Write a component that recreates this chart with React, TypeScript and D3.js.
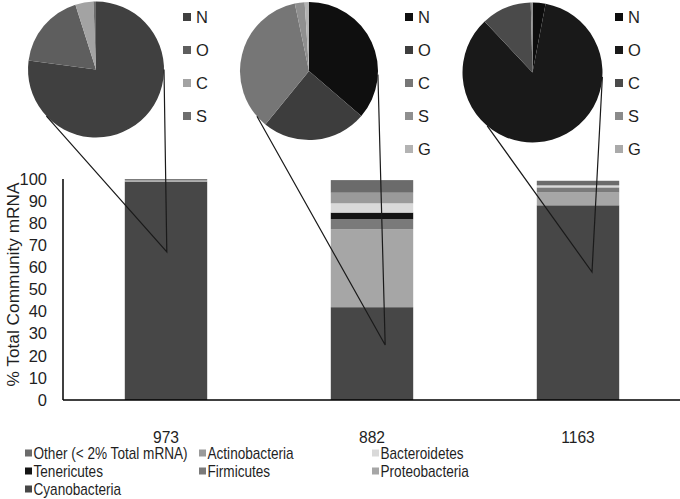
import React from "react";
import * as d3 from "d3";

const categories = ["973", "882", "1163"];
const phyla = ["Cyanobacteria", "Proteobacteria", "Firmicutes", "Tenericutes", "Bacteroidetes", "Actinobacteria", "Other (< 2% Total mRNA)"];
const cyanobacteria = [98.8, 42.0, 88.1];
const proteobacteria = [0.8, 35.3, 5.8];
const firmicutes = [0, 4.5, 2.3];
const tenericutes = [0, 3.0, 0];
const bacteroidetes = [0, 4.2, 0.8];
const actinobacteria = [0, 4.8, 0.2];
const other = [0.4, 5.7, 2.0];
const yTicks = [0, 10, 20, 30, 40, 50, 60, 70, 80, 90, 100];
const legendOrder = ["Other (< 2% Total mRNA)", "Actinobacteria", "Bacteroidetes", "Tenericutes", "Firmicutes", "Proteobacteria", "Cyanobacteria"];

const pie973Labels = ["N", "O", "C", "S"];
const pie973Values = [77.1, 18.0, 4.3, 0.6];
const pie882Labels = ["N", "O", "C", "S", "G"];
const pie882Values = [36.3, 24.6, 35.8, 2.3, 1.0];
const pie1163Labels = ["N", "O", "C", "S", "G"];
const pie1163Values = [3.0, 85.0, 11.6, 0.3, 0.1];

// leader line vertex inside each bar: fraction across band, % value
const vertexFrac = [0.51, 0.66, 0.67];
const vertexValue = [67, 24.9, 57.9];
// angles (deg, clockwise from top) where leader lines leave each pie
const leaderLeftAngle = [226.8, 229, 220.3];
const leaderRightAngle = [90, 93, 93.6];

const phylumColors: Record<string, string> = {
  "Cyanobacteria": "#474747",
  "Proteobacteria": "#a6a6a6",
  "Firmicutes": "#7a7a7a",
  "Tenericutes": "#141414",
  "Bacteroidetes": "#d9d9d9",
  "Actinobacteria": "#9a9a9a",
  "Other (< 2% Total mRNA)": "#6b6b6b",
};
const pieColors = [
  ["#404040", "#5e5e5e", "#a3a3a3", "#6e6e6e"],
  ["#0f0f0f", "#3d3d3d", "#767676", "#8f8f8f", "#b3b3b3"],
  ["#0d0d0d", "#191919", "#4a4a4a", "#8a8a8a", "#aaaaaa"],
];
const pieLayout = [
  { cx: 96, cy: 69.5, r: 68, lx: 183 },
  { cx: 309, cy: 71, r: 69, lx: 405 },
  { cx: 532.5, cy: 72.5, r: 70, lx: 615 },
];

const W = 680, H = 499;
const FONT = "'Liberation Sans', Arial, sans-serif";
const TXT = "#1f1f1f";

export default function App() {
  const x = d3.scaleBand<string>().domain(categories).range([63, 681]).paddingInner(0.6).paddingOuter(0.3);
  const y = d3.scaleLinear().domain([0, 100]).range([400, 179]);

  const seriesMap: Record<string, number[]> = {
    "Cyanobacteria": cyanobacteria,
    "Proteobacteria": proteobacteria,
    "Firmicutes": firmicutes,
    "Tenericutes": tenericutes,
    "Bacteroidetes": bacteroidetes,
    "Actinobacteria": actinobacteria,
    "Other (< 2% Total mRNA)": other,
  };
  const table = categories.map((c, i) => {
    const row: any = { cat: c };
    phyla.forEach((p) => (row[p] = seriesMap[p][i]));
    return row;
  });
  const stacked = d3.stack<any>().keys(phyla)(table);

  const pies = [
    { labels: pie973Labels, values: pie973Values },
    { labels: pie882Labels, values: pie882Values },
    { labels: pie1163Labels, values: pie1163Values },
  ];
  const pieGen = d3.pie<number>().sort(null).value((d) => d);

  const legendCols = [25, 199, 372];
  const legendRows = [453, 471, 489];

  return (
    <svg width={W} height={H} style={{ position: "absolute", left: 0, top: 0, background: "#fff" }} fontFamily={FONT}>
      {/* bars */}
      {stacked.map((s) => (
        <g key={s.key} fill={phylumColors[s.key]}>
          {s.map((d, i) => (
            <rect key={i} x={x(categories[i])} width={x.bandwidth()} y={y(d[1])} height={Math.max(0, y(d[0]) - y(d[1]))} />
          ))}
        </g>
      ))}
      {/* axes */}
      <line x1={63} x2={63} y1={y(100)} y2={y(0)} stroke="#000" strokeWidth={1.5} />
      <line x1={63} x2={681} y1={y(0)} y2={y(0)} stroke="#000" strokeWidth={1.5} />
      {yTicks.map((t) => (
        <text key={t} x={47} y={y(t)} dy="0.35em" textAnchor="end" fontSize={16.5} fill={TXT}>{t}</text>
      ))}
      <text transform={`translate(13,${(y(0) + y(100)) / 2 - 5}) rotate(-90)`} dy="0.35em" textAnchor="middle" fontSize={17} fill={TXT} textLength={204} lengthAdjust="spacingAndGlyphs">% Total Community mRNA</text>
      {categories.map((c) => (
        <text key={c} transform={`translate(${(x(c) as number) + x.bandwidth() / 2},437) scale(0.92,1)`} dy="0.35em" textAnchor="middle" fontSize={17} fill={TXT}>{c}</text>
      ))}
      {/* pies */}
      {pies.map((p, pi) => {
        const L = pieLayout[pi];
        const arc = d3.arc<d3.PieArcDatum<number>>().innerRadius(0).outerRadius(L.r);
        const arcs = pieGen(p.values);
        return (
          <g key={pi}>
            <g transform={`translate(${L.cx},${L.cy})`}>
              {arcs.map((a, ai) => (
                <path key={ai} d={arc(a) as string} fill={pieColors[pi][ai]} />
              ))}
            </g>
            {p.labels.map((lab, li) => (
              <g key={lab}>
                <rect x={L.lx} y={17 + li * 33 - 4} width={8} height={8} fill={pieColors[pi][li]} />
                <text x={L.lx + 13} y={17 + li * 33} dy="0.35em" fontSize={16.5} fill={TXT}>{lab}</text>
              </g>
            ))}
          </g>
        );
      })}
      {/* leader lines */}
      {categories.map((c, i) => {
        const L = pieLayout[i];
        const vx = (x(c) as number) + vertexFrac[i] * x.bandwidth();
        const vy = y(vertexValue[i]);
        const pt = (deg: number) => {
          const a = (deg * Math.PI) / 180;
          return [L.cx + L.r * Math.sin(a), L.cy - L.r * Math.cos(a)];
        };
        const [lx, ly] = pt(leaderLeftAngle[i]);
        const [rx, ry] = pt(leaderRightAngle[i]);
        return (
          <path key={c} d={`M${lx},${ly}L${vx},${vy}L${rx},${ry}`} fill="none" stroke="#1a1a1a" strokeWidth={1.2} />
        );
      })}
      {/* legend */}
      {legendOrder.map((name, i) => {
        const col = i % 3;
        const row = Math.floor(i / 3);
        const lx = legendCols[col];
        const ly = legendRows[row];
        return (
          <g key={name}>
            <rect x={lx} y={ly - 3.5} width={7} height={7} fill={phylumColors[name]} />
            <text transform={`translate(${lx + 8.5},${ly}) scale(0.85,1)`} dy="0.35em" fontSize={16} fill={TXT}>{name}</text>
          </g>
        );
      })}
    </svg>
  );
}
